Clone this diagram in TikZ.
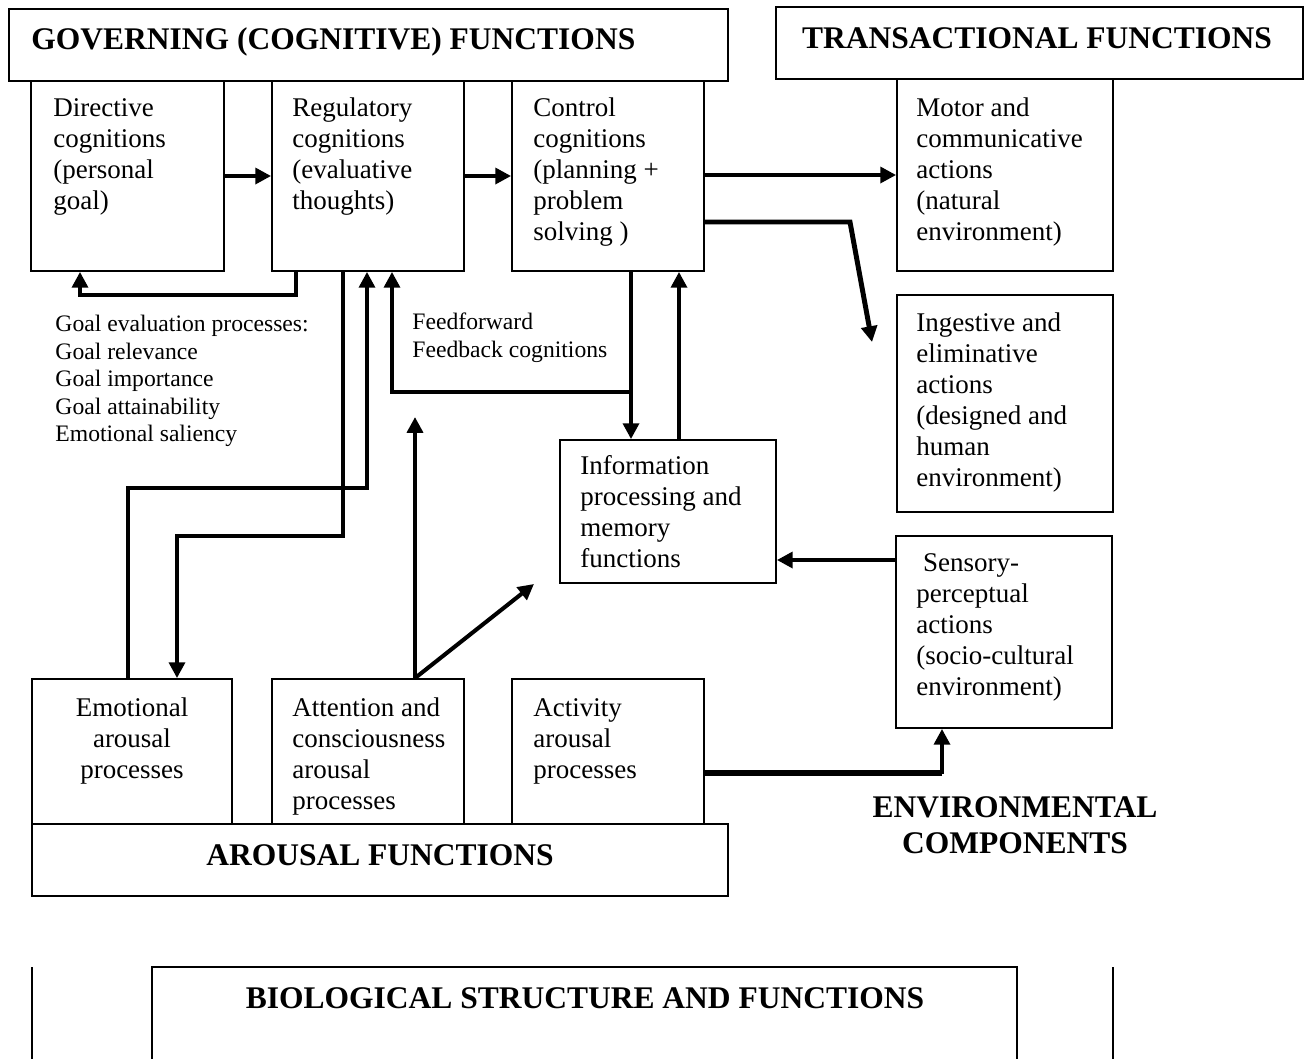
\documentclass[tikz,border=0pt]{standalone}
\usepackage{fontspec}
\setmainfont{Liberation Serif}
\usetikzlibrary{arrows.meta,fit}
\begin{document}
\begin{tikzpicture}[x=0.4444pt,y=-0.4444pt,
  box/.style={draw, line width=0.8pt, inner sep=0pt},
  hbox/.style={draw, line width=1pt, inner sep=0pt},
  txt/.style={anchor=north west, inner sep=0pt, align=left, font=\fontsize{12}{13.8}\selectfont},
  small/.style={anchor=north west, inner sep=0pt, align=left, font=\fontsize{10.5}{12.2}\selectfont},
  head/.style={inner sep=0pt, font=\fontsize{14}{16}\selectfont\bfseries},
  link/.style={line width=2.2pt},
  arr/.style={line width=2.2pt, -{Triangle[length=7pt,width=7pt]}},
  tarr/.style={line width=1.8pt, -{Triangle[length=7pt,width=7pt]}},
]
\useasboundingbox (0,0) rectangle (1310,1059);

% headings
\node[hbox, fit={(9,9) (728,81)}] (gov) {};
\node[head, anchor=base west] (govt) at (31,49.5) {GOVERNING (COGNITIVE) FUNCTIONS};
\node[hbox, fit={(776,7) (1303,79)}] (trans) {};
\node[head] (transt) at (1037,38) {TRANSACTIONAL FUNCTIONS};

% cognitive boxes
\node[box, fit={(31,81) (224,271)}] (dir) {};
\node[txt] (dirt) at (53,94) {\strut Directive\\cognitions\\(personal\\goal)};
\node[box, fit={(272,81) (464,271)}] (reg) {};
\node[txt] (regt) at (292,94) {\strut Regulatory\\cognitions\\(evaluative\\thoughts)};
\node[box, fit={(512,81) (704,271)}] (ctl) {};
\node[txt] (ctlt) at (533,94) {\strut Control\\cognitions\\(planning +\\problem\\solving )};

% transactional boxes
\node[box, fit={(897,79) (1113,271)}] (mot) {};
\node[txt] (mott) at (916,94) {\strut Motor and\\communicative\\actions\\(natural\\environment)};
\node[box, fit={(897,295) (1113,512)}] (ing) {};
\node[txt] (ingt) at (916,309) {\strut Ingestive and\\eliminative\\actions\\(designed and\\human\\environment)};
\node[box, fit={(896,536) (1112,728)}] (sen) {};
\node[txt] (sent) at (916,549) {\strut ~Sensory-\\perceptual\\actions\\(socio-cultural\\environment)};

% information processing
\node[box, fit={(560,440) (776,583)}] (info) {};
\node[txt] (infot) at (580,452) {\strut Information\\processing and\\memory\\functions};

% side texts
\node[small] (goal) at (55,312) {\strut Goal evaluation processes:\\Goal relevance\\Goal importance\\Goal attainability\\Emotional saliency};
\node[small] (ff) at (412,310) {\strut Feedforward\\Feedback cognitions};

% arousal boxes
\node[box, fit={(32,679) (232,824)}] (emo) {};
\node[txt, anchor=north, align=center] (emot) at (132,694) {\strut Emotional\\arousal\\processes};
\node[box, fit={(272,679) (464,824)}] (att) {};
\node[txt] (attt) at (292,694) {\strut Attention and\\consciousness\\arousal\\processes};
\node[box, fit={(512,679) (704,824)}] (act) {};
\node[txt] (actt) at (533,694) {\strut Activity\\arousal\\processes};
\node[hbox, fit={(32,824) (728,896)}] (aro) {};
\node[head] (arot) at (380,855) {AROUSAL FUNCTIONS};

\node[head, align=center] (env) at (1015,825) {ENVIRONMENTAL\\COMPONENTS};

% biological level
\node[hbox, fit={(152,967) (1017,1090)}] (bio) {};
\node[head] (biot) at (585,998) {BIOLOGICAL STRUCTURE AND FUNCTIONS};
\draw[line width=0.8pt] (32,967) -- (32,1090);
\draw[line width=0.8pt] (1113,967) -- (1113,1090);

% connectors among cognitive functions
\draw[arr] (dir.east) -- (reg.west);
\draw[arr] (reg.east) -- (ctl.west);
\draw[arr] (ctl.east |- 0,175) -- (mot.west |- 0,175);
\coordinate (ingtip) at (872,342);
\draw[arr] (ctl.east |- 0,222) -- (850,222) -- (ingtip);
\draw[arr] (reg.south -| 296,0) -- (296,295) -- (80,295) -- (dir.south -| 80,0);

% feedforward / feedback loop
\coordinate (fb) at (631,392);
\draw[arr] (ctl.south -| 631,0) -- (info.north -| 631,0);
\draw[arr] (fb) -- (392,392) -- (reg.south -| 392,0);
\draw[arr] (info.north -| 679,0) -- (ctl.south -| 679,0);

% regulatory <-> emotional arousal
\draw[arr] (reg.south -| 343,0) -- (343,536) -- (177,536) -- (emo.north -| 177,0);
\draw[arr] (emo.north -| 128,0) -- (128,488) -- (367,488) -- (reg.south -| 367,0);

% attention arousal
\coordinate (atttip) at (415,417);
\coordinate (infotip) at (534,584);
\draw[tarr] (att.north -| 415,0) -- (atttip);
\draw[tarr] (att.north -| 415,0) -- (infotip);

% environment links
\draw[arr] (sen.west |- 0,560) -- (info.east |- 0,560);
\draw[line width=2.8pt] (act.east |- 0,773) -- (942,773);
\draw[arr] (942,774.4) -- (sen.south -| 942,0);
\end{tikzpicture}
\end{document}
